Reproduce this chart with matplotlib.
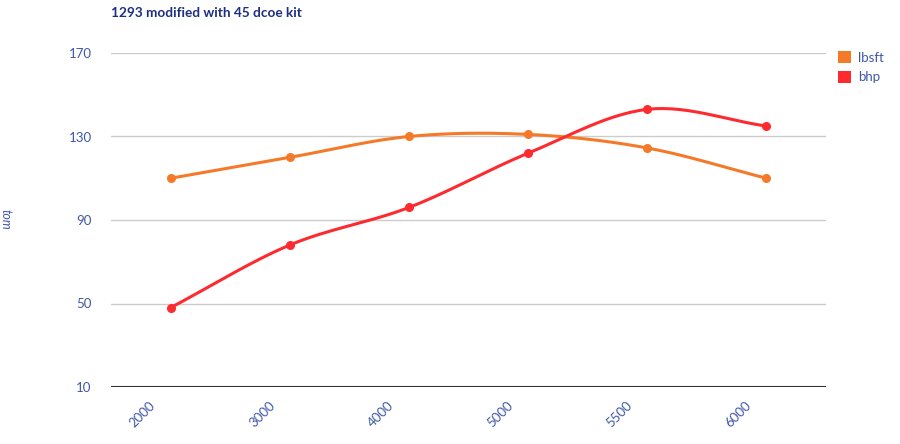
import matplotlib.pyplot as plt
import numpy as np
from matplotlib.patches import Patch
from matplotlib.transforms import ScaledTranslation

rpm = ["2000", "3000", "4000", "5000", "5500", "6000"]
lbsft = [110, 120, 130, 131, 124.5, 110]
bhp = [48, 78, 96, 122, 143, 135]

title = "1293 modified with 45 dcoe kit"
y_label = "tom"
y_ticks = [10, 50, 90, 130, 170]

ORANGE = "#f47a2a"
RED = "#fd2a2f"
NAVY = "#1c2f82"
TICK_BLUE = "#4057a8"


def _smooth(x, y, steps=30):
    # Catmull-Rom style cubic bezier through each point, like a "function" curve
    x = np.asarray(x, float)
    y = np.asarray(y, float)
    n = len(x)
    tx = np.zeros(n)
    ty = np.zeros(n)
    for i in range(n):
        a = max(i - 1, 0)
        b = min(i + 1, n - 1)
        tx[i] = (x[b] - x[a]) / (b - a)
        ty[i] = (y[b] - y[a]) / (b - a)
    xs, ys = [], []
    t = np.linspace(0, 1, steps)
    for i in range(n - 1):
        p0 = np.array([x[i], y[i]])
        p3 = np.array([x[i + 1], y[i + 1]])
        p1 = p0 + np.array([tx[i], ty[i]]) / 3
        p2 = p3 - np.array([tx[i + 1], ty[i + 1]]) / 3
        pts = (
            np.outer((1 - t) ** 3, p0)
            + np.outer(3 * (1 - t) ** 2 * t, p1)
            + np.outer(3 * (1 - t) * t**2, p2)
            + np.outer(t**3, p3)
        )
        xs.extend(pts[:, 0])
        ys.extend(pts[:, 1])
    return np.array(xs), np.array(ys)


def main():
    plt.rcParams["font.family"] = ["Lato", "DejaVu Sans"]
    fig = plt.figure(figsize=(9, 4.44), dpi=100)
    ax = fig.add_axes([111 / 900, 1 - 387 / 444, 715 / 900, 334 / 444])

    idx = np.arange(len(rpm))
    for vals, color in [(lbsft, ORANGE), (bhp, RED)]:
        sx, sy = _smooth(idx, vals)
        ax.plot(sx, sy, color=color, lw=2.2, solid_capstyle="round", zorder=3)
        ax.plot(idx, vals, "o", color=color, ms=5.5, zorder=4)

    ax.set_xlim(-0.5, len(rpm) - 0.5)
    ax.set_ylim(10, 170)
    ax.set_yticks(y_ticks)
    ax.set_xticks(idx)
    ax.set_xticklabels(rpm, rotation=45, ha="right", va="center", rotation_mode="anchor")

    for y in y_ticks[1:]:
        ax.axhline(y, color="#cccccc", lw=1.0, zorder=1)
    ax.axhline(10, color="#333333", lw=1.5, zorder=2)

    for s in ax.spines.values():
        s.set_visible(False)
    ax.tick_params(axis="both", length=0, colors=TICK_BLUE, labelsize=9.5)
    ax.tick_params(axis="y", pad=14)
    ax.tick_params(axis="x", pad=12)
    shift = ScaledTranslation(-17 / 100, 0, fig.dpi_scale_trans)
    for lab in ax.get_xticklabels():
        lab.set_transform(lab.get_transform() + shift)

    fig.text(111 / 900, 1 - 13 / 444, title, color=NAVY, fontsize=9.8,
             fontweight="bold", ha="left", va="center")
    fig.text(6 / 900, 1 - 219 / 444, y_label, color=TICK_BLUE, fontsize=9,
             style="italic", rotation=270, ha="center", va="center")

    handles = [Patch(facecolor=ORANGE, label="lbsft"), Patch(facecolor=RED, label="bhp")]
    leg = fig.legend(handles=handles, loc="upper left", bbox_to_anchor=(833 / 900, 1 - 46 / 444),
                     frameon=False, fontsize=9.5, handlelength=1.0, handleheight=1.0,
                     handletextpad=0.5, labelspacing=0.55, borderaxespad=0)
    for t in leg.get_texts():
        t.set_color(TICK_BLUE)

    fig.savefig("out.png", dpi=100)


if __name__ == "__main__":
    main()
